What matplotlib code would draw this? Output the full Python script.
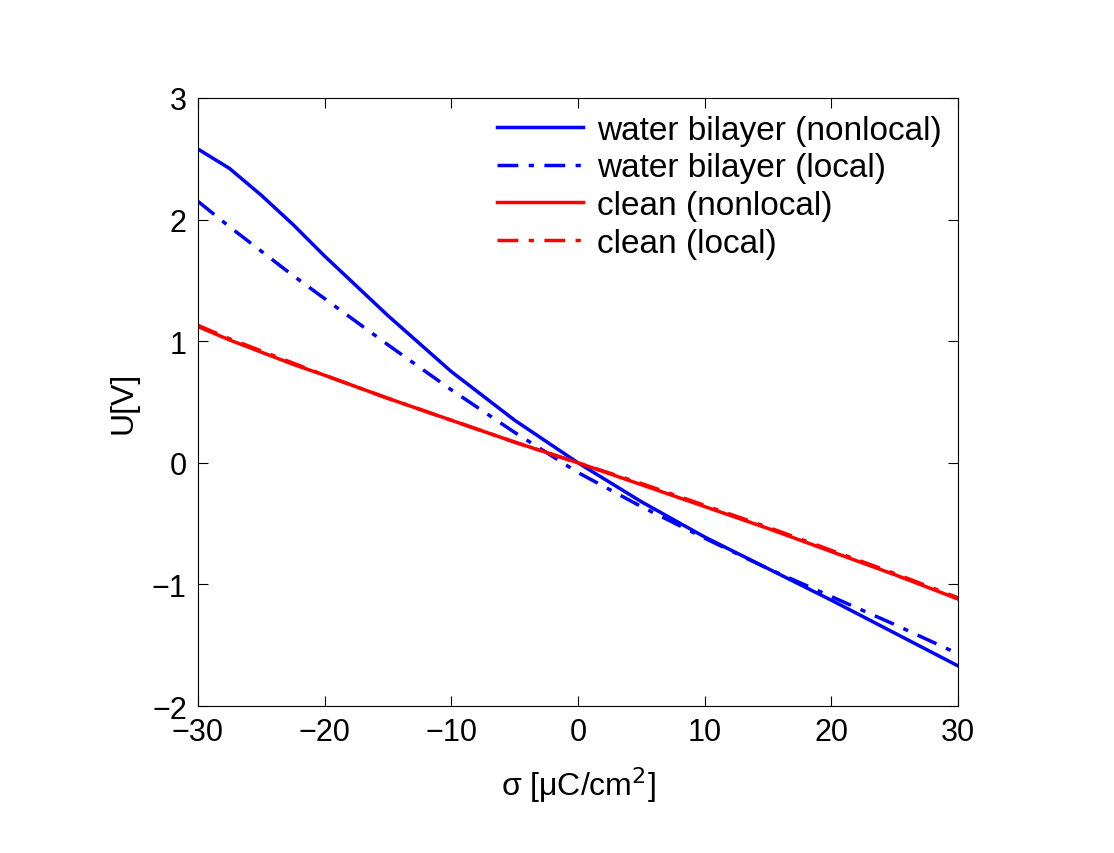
import matplotlib
matplotlib.use("Agg")
import matplotlib.pyplot as plt
import numpy as np

plt.rcParams["font.family"] = "Liberation Sans"

sigma = [-30, -27.5, -25, -22.5, -20, -15, -10, -5, 0, 5, 10, 15, 20, 25, 30]
water_nonlocal = [2.58, 2.42, 2.20, 1.96, 1.70, 1.21, 0.75, 0.35, 0.0, -0.32, -0.61, -0.87, -1.13, -1.40, -1.67]
water_local = [2.15, 1.94, 1.74, 1.54, 1.35, 0.97, 0.60, 0.25, -0.08, -0.36, -0.62, -0.87, -1.10, -1.33, -1.57]
clean_nonlocal = [1.12, 1.01, 0.91, 0.81, 0.72, 0.53, 0.35, 0.17, 0.0, -0.18, -0.36, -0.54, -0.73, -0.92, -1.12]
clean_local = [1.13, 1.02, 0.92, 0.82, 0.72, 0.53, 0.35, 0.17, 0.0, -0.17, -0.35, -0.53, -0.72, -0.91, -1.11]

fig = plt.figure(figsize=(11.14, 8.54), dpi=100)
ax = fig.add_axes([0.1777, 0.1721, 0.6823, 0.712])
lw = 2.5
ax.plot(sigma, water_nonlocal, color="#0000ff", lw=lw, label="water bilayer (nonlocal)")
ax.plot(sigma, water_local, color="#0000ff", lw=lw, ls=(0, (6, 3, 1.5, 3)), label="water bilayer (local)")
ax.plot(sigma, clean_nonlocal, color="#ff0000", lw=lw, label="clean (nonlocal)")
ax.plot(sigma, clean_local, color="#ff0000", lw=lw, ls=(0, (6, 3, 1.5, 3)), label="clean (local)")

ax.set_xlim(-30, 30)
ax.set_ylim(-2, 3)
ax.set_xticks([-30, -20, -10, 0, 10, 20, 30])
ax.set_yticks([-2, -1, 0, 1, 2, 3])
ax.set_xticklabels(["\u221230", "\u221220", "\u221210", "0", "10", "20", "30"])
ax.set_yticklabels(["\u22122", "\u22121", "0", "1", "2", "3"])
ax.tick_params(direction="in", top=True, right=True, labelsize=22, length=7, pad=8)
ax.set_xlabel("\u03c3 [\u03bcC/cm$^2$]", fontsize=23, labelpad=12)
ax.set_ylabel("U[V]", fontsize=23, labelpad=10)
ax.legend(loc="upper right", frameon=False, fontsize=24, handlelength=2.6,
          labelspacing=0.2, handletextpad=0.4, borderaxespad=0.1,
          bbox_to_anchor=(1.0, 1.0))
fig.savefig("out.png", dpi=100)
